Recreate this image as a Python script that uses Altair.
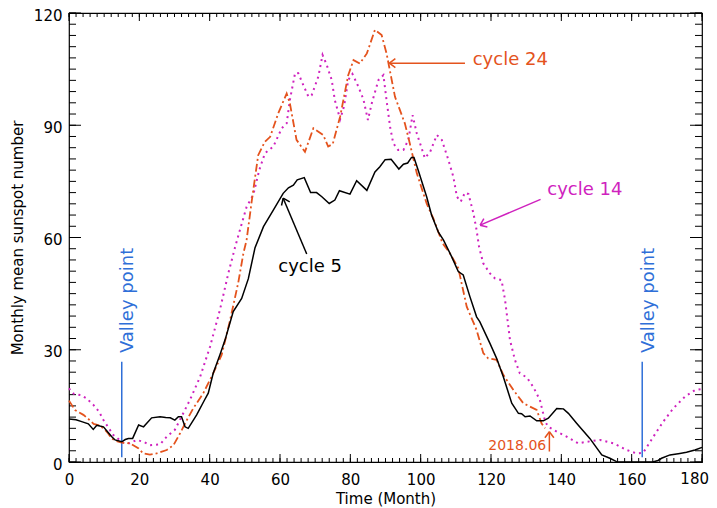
import altair as alt
import pandas as pd

# ---------------- data ----------------
c5_x = [0, 2, 3.6, 5.5, 6.9, 7.9, 8.8, 9.8, 11.2, 12.1, 13.1, 15.0, 16.0, 16.9, 18.1, 19.8, 21.2, 23.5, 25.9,
        27.5, 28.8, 30.1, 31.1, 32.0, 33.0, 33.9, 36.3, 38.5, 39.6, 41.0, 42.9, 44.5, 46.7, 49.1, 51.0, 52.9,
        55.3, 58.1, 60.9, 62.4, 63.8, 64.9, 66.9, 68.7, 70.4, 71.9, 74.0, 75.6, 76.9, 79.9, 81.8, 84.7, 87.0,
        88.4, 89.9, 91.6, 93.8, 95.1, 96.3, 97.4, 98.1, 99.3, 101.7, 103.1, 105.0, 106.5, 108.8, 110.7, 112.1,
        114.0, 115.9, 116.8, 119.7, 121.6, 123.5, 125.9, 127.8, 128.7, 129.7, 131.1, 133.0, 134.9, 136.3,
        138.7, 140.6, 142.0, 144.4, 148.1, 151.5, 153.8, 155.7, 157.0, 166.0, 167.5, 168.5, 170.9, 173.7,
        175.6, 178.0, 180.0]
c5_y = [11.5, 11.3, 10.8, 10.2, 8.7, 9.8, 9.6, 9.4, 7.8, 6.8, 5.9, 5.4, 6.0, 6.3, 6.3, 9.9, 9.4, 11.8, 12.1,
        11.9, 11.8, 11.2, 12.1, 12.1, 9.4, 9.0, 12.6, 16.5, 18.4, 23.7, 28.6, 33.0, 40.2, 43.7, 49.0, 57.3,
        62.9, 67.3, 71.8, 73.3, 74.0, 75.4, 76.0, 72.0, 72.0, 70.9, 69.1, 70.0, 72.5, 71.6, 75.2, 72.6, 77.5,
        78.9, 80.8, 80.9, 78.3, 79.6, 79.9, 81.4, 81.4, 78.0, 70.9, 66.0, 61.5, 59.3, 54.9, 50.9, 50.0,
        44.2, 38.8, 37.5, 31.7, 27.7, 22.8, 15.7, 13.0, 12.9, 12.1, 12.3, 11.0, 11.0, 11.7,
        14.3, 14.2, 13.0, 10.3, 6.3, 1.9, 1.0, 0.1, 0.0, 0.0, 0.4, 1.0, 1.9, 2.3,
        2.6, 3.2, 3.9]

c24_x = [0, 1.7, 4.1, 5.5, 7.0, 8.5, 9.8, 11.0, 12.1, 13.5, 15.0, 17.3, 19.7, 21.1, 23.0, 24.9, 27.8, 29.7,
         31.6, 33.5, 35.3, 38.2, 41.0, 43.4, 45.8, 48.1, 49.6, 50.5, 52.0, 53.8, 55.7, 57.2, 59.5, 61.9, 62.8,
         64.7, 67.1, 69.5, 72.3, 73.7, 75.0, 77.1, 79.4, 80.9, 82.7, 84.7, 87.0, 88.9, 90.3, 92.7, 95.5, 96.9,
         98.9, 101.7, 103.6, 106.2, 108.3, 110.7, 113.1, 115.9, 117.8, 119.2, 121.6, 123.5, 126.4, 129.2,
         133.0, 134.4, 135.4]
c24_y = [16.4, 13.9, 12.6, 11.5, 10.2, 9.8, 9.0, 7.8, 6.3, 5.6, 5.2, 5.0, 3.7, 2.3, 2.0, 2.3, 3.2, 4.5,
         7.7, 11.2, 14.3, 18.4, 23.7, 28.6, 37.9, 47.8, 55.8, 59.3, 70.0, 82.0, 85.6, 86.9, 93.2, 98.5, 95.9,
         86.1, 82.9, 89.2, 87.4, 84.3, 85.0, 92.3, 103.4, 107.4, 106.5, 109.2, 115.5, 114.1, 109.2, 97.6, 90.5, 85.2,
         77.2, 69.1, 65.1, 58.5, 55.8, 51.8, 41.5, 35.3, 29.1, 27.7, 27.3, 23.3, 19.2, 15.7,
         13.9, 10.3, 9.0]

c14_x = [0, 1.4, 3.3, 5.0, 7.0, 8.5, 9.8, 12.6, 15.4, 17.3, 19.2, 21.2, 23.0, 25.9, 27.8, 30.1, 32.0, 34.4,
         37.3, 40.1, 42.9, 45.3, 47.2, 48.6, 50.5, 52.4, 54.1, 55.7, 58.1, 60.5, 61.9, 62.8, 64.3, 65.2, 66.6,
         68.1, 69.0, 70.9, 72.1, 73.3, 74.7, 75.6, 77.1, 78.2, 79.4, 80.6, 82.2, 83.7, 85.0, 86.1, 88.0, 89.4,
         90.3, 91.3, 92.2, 93.6, 95.1, 96.5, 97.7, 98.9, 100.3, 101.2, 102.7, 104.6, 106.0, 107.9, 109.3,
         110.3, 111.4, 112.6, 113.6, 115.0, 115.9, 116.6, 117.8, 119.7, 121.1, 123.0, 124.0, 125.4, 126.8,
         128.2, 130.2, 132.0, 133.9, 135.4, 136.3, 138.7, 141.5, 144.8, 147.2, 151.0, 154.8, 158.6, 161.4,
         163.3, 166.2, 169.0, 171.8, 175.2, 178.0, 180.0]
c14_y = [19.7, 18.2, 17.9, 17.0, 15.2, 13.5, 11.2, 7.2, 5.2, 5.0, 5.9, 5.4, 4.5, 4.7, 6.8, 8.6, 12.1, 16.6,
         22.8, 30.8, 40.6, 50.4, 57.3, 62.0, 68.2, 71.4, 78.0, 82.5, 84.3, 89.2, 90.5, 96.7, 104.0, 103.9, 100.8,
         97.6, 98.0, 103.0, 108.8, 106.1, 102.1, 96.7, 91.6, 95.0, 102.1, 103.7, 100.5, 97.0, 91.4, 95.9, 102.1, 103.4,
         96.7, 89.6, 85.2, 83.4, 83.4, 86.1, 92.7, 87.8, 83.8, 81.2, 82.9, 87.4, 86.1, 80.7, 76.2,
         70.9, 69.6, 72.0, 71.6, 66.5, 62.0, 57.5, 53.1, 50.4, 49.1, 48.6, 43.3, 32.6, 27.3,
         23.7, 22.6, 20.1, 16.6, 10.8, 9.4, 8.1, 6.8, 5.0, 5.4, 5.9, 5.0, 3.2, 2.3,
         2.5, 6.8, 10.8, 14.3, 17.5, 19.2, 19.5]

x_major = list(range(0, 181, 20))
x_minor = list(range(0, 181, 2))
y_major = list(range(0, 121, 30))
y_minor = list(range(0, 121, 3))

valley_x = [15, 163]
valley_y0 = [1.3, 1.3]
valley_y1 = [26.8, 26.8]
valley_label_y = [29.1, 29.1]
valley_text = ["Valley point", "Valley point"]

labels_text = ["cycle 24", "cycle 14", "cycle 5"]
labels_x = [114.8, 136.0, 59.5]
labels_y = [107.4, 72.7, 50.7]
labels_color = ["#E4531D", "#CF22BE", "#000000"]
labels_baseline = ["middle", "middle", "alphabetic"]

arrow_x = [112.6, 134.1, 67.6, 136.6]
arrow_y = [106.6, 70.2, 55.6, 2.8]
arrow_x2 = [91.1, 116.9, 60.9, 136.6]
arrow_y2 = [106.6, 63.3, 70.5, 8.1]
arrow_angle = [0, 337, 66, 90]
arrow_color = ["#E4531D", "#CF22BE", "#000000", "#E4531D"]

date_text = ["2018.06"]
date_x = [135.7]
date_y = [4.3]

# ---------------- styling ----------------
W, H = 633, 449
FONT = "DejaVu Sans"
ORANGE = "#E4531D"
MAGENTA = "#CF22BE"
BLUE = "#2F6FD8"

xs = alt.Scale(domain=[0, 180], nice=False, zero=False)
ys = alt.Scale(domain=[0, 120], nice=False, zero=False)

XAX = alt.Axis(values=x_major[:-1], format="d", grid=False, ticks=False, tickSize=0, domain=False,
               labelFont=FONT, labelFontSize=15, labelColor="black", labelPadding=10,
               labelFlush=False,
               title="Time (Month)", titleFont=FONT, titleFontSize=15, titleFontWeight="normal",
               titleColor="black", titleX=W / 2, titleY=36, titleBaseline="middle", titleAlign="center")
YAX = alt.Axis(values=y_major, format="d", grid=False, ticks=False, tickSize=0, domain=False,
               labelFont=FONT, labelFontSize=15, labelColor="black", labelPadding=7,
               labelFlush=False, labelOffset=2,
               title="Monthly mean sunspot number", titleFont=FONT, titleFontSize=15,
               titleFontWeight="normal", titleColor="black", titleX=-52, titleY=H / 2,
               titleAngle=270, titleBaseline="middle", titleAlign="center")


def X(f="x"):
    return alt.X(f"{f}:Q", scale=xs, axis=XAX)


def Y(f="y"):
    return alt.Y(f"{f}:Q", scale=ys, axis=YAX)


def series(xv, yv, **kw):
    df = pd.DataFrame({"x": xv, "y": yv, "o": list(range(len(xv)))})
    return alt.Chart(df).mark_line(**kw).encode(x=X(), y=Y(), order="o:Q")


layers = []


# tick marks (inward, IDL style)
def xticks(vals, length, top):
    df = pd.DataFrame({"v": vals})
    y0, y1 = (0, length) if top else (H, H - length)
    return alt.Chart(df).mark_rule(color="black", strokeWidth=1).encode(
        x=X("v"), y=alt.value(y0), y2=alt.value(y1))


def yticks(vals, length, right):
    df = pd.DataFrame({"v": vals})
    x0, x1 = (W, W - length) if right else (0, length)
    return alt.Chart(df).mark_rule(color="black", strokeWidth=1).encode(
        y=Y("v"), x=alt.value(x0), x2=alt.value(x1))


layers += [xticks(x_minor, 4, False), xticks(x_major, 8, False),
           xticks(x_minor, 4, True), xticks(x_major, 8, True),
           yticks(y_minor, 7, False), yticks(y_major, 12, False),
           yticks(y_minor, 7, True), yticks(y_major, 12, True)]

# last x tick label (kept inside the page edge)
lastdf = pd.DataFrame({"v": x_major[-1:], "t": [str(v) for v in x_major[-1:]]})
layers.append(alt.Chart(lastdf).mark_text(font=FONT, fontSize=15, color="black", align="right",
                                          baseline="top", dx=7).encode(
    x=X("v"), y=alt.value(H + 10), text="t:N"))

# valley lines
vdf = pd.DataFrame({"x": valley_x, "y": valley_y0, "y2": valley_y1, "ly": valley_label_y, "t": valley_text})
layers.append(alt.Chart(vdf).mark_rule(color=BLUE, strokeWidth=1.5).encode(
    x=X(), y=Y(), y2="y2:Q"))
layers.append(alt.Chart(vdf).mark_text(font=FONT, fontSize=18, color=BLUE, angle=270,
                                       align="left", baseline="alphabetic", dy=11.5).encode(
    x=X(), y=Y("ly"), text="t:N"))

# series
layers.append(series(c14_x, c14_y, color=MAGENTA, strokeWidth=2, strokeDash=[2, 4]))
layers.append(series(c24_x, c24_y, color=ORANGE, strokeWidth=1.8, strokeDash=[8, 3, 2, 3]))
layers.append(series(c5_x, c5_y, color="black", strokeWidth=1.5))

# arrows
adf = pd.DataFrame({"x": arrow_x, "y": arrow_y, "x2": arrow_x2, "y2": arrow_y2,
                    "a": arrow_angle, "c": arrow_color})
layers.append(alt.Chart(adf).mark_rule(strokeWidth=1.5).encode(
    x=X(), y=Y(), x2="x2:Q", y2="y2:Q", color=alt.Color("c:N", scale=None)))
layers.append(alt.Chart(adf).mark_point(shape="M0,0L1,-0.75M0,0L1,0.75", filled=False, size=144,
                                        strokeWidth=1.5, opacity=1).encode(
    x=X("x2"), y=Y("y2"), angle=alt.Angle("a:Q", scale=None), color=alt.Color("c:N", scale=None)))

# labels
ldf = pd.DataFrame({"x": labels_x, "y": labels_y, "t": labels_text, "c": labels_color})
for i in range(len(labels_text)):
    layers.append(alt.Chart(ldf.iloc[[i]]).mark_text(font=FONT, fontSize=18, align="left",
                                                     baseline=labels_baseline[i]).encode(
        x=X(), y=Y(), text="t:N", color=alt.Color("c:N", scale=None)))

ddf = pd.DataFrame({"x": date_x, "y": date_y, "t": date_text})
layers.append(alt.Chart(ddf).mark_text(font=FONT, fontSize=14, align="right",
                                       baseline="middle", color=ORANGE).encode(x=X(), y=Y(), text="t:N"))

chart = alt.layer(*layers).properties(
    width=W, height=H,
    autosize=alt.AutoSizeParams(type="none"),
    padding={"left": 61, "top": 5, "right": 7, "bottom": 45},
).configure_view(stroke="black", strokeWidth=1.2)

chart.save("out.html", embed_options={"renderer": "svg", "actions": False})
